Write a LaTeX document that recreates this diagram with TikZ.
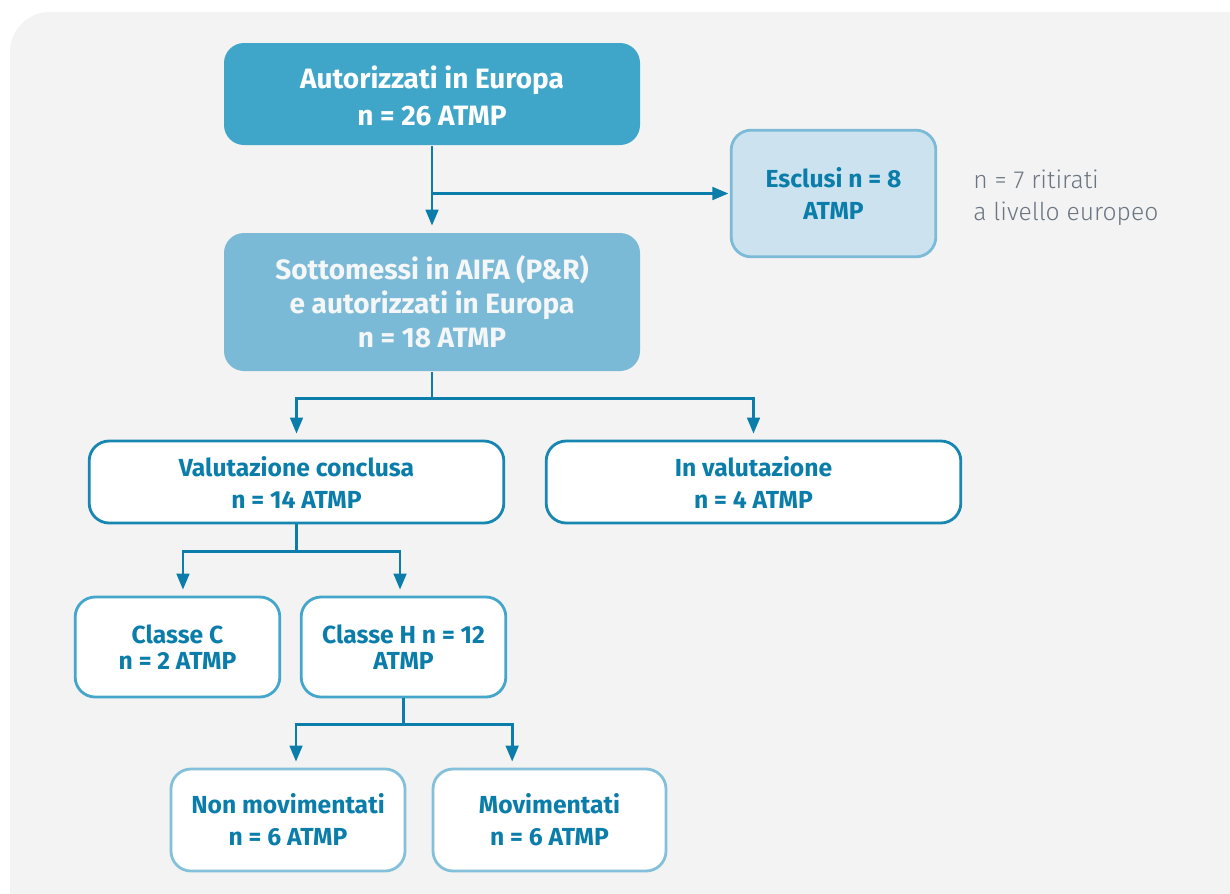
\documentclass[tikz,border=0pt]{standalone}
\usepackage{fontspec}
\setmainfont{Fira Sans}
\newfontfamily\notefont{Fira Sans Light}
\usetikzlibrary{arrows.meta}
\definecolor{bggrey}{HTML}{F3F3F3}
\definecolor{fillA}{HTML}{3FA6C9}
\definecolor{fillB}{HTML}{7BBAD6}
\definecolor{fillC}{HTML}{CCE3EF}
\definecolor{lineC}{HTML}{7BBBD8}
\definecolor{conn}{HTML}{0B7DAA}
\definecolor{tdark}{HTML}{0B7DAA}
\definecolor{borderV}{HTML}{1786B0}
\definecolor{borderK}{HTML}{45A6CB}
\definecolor{borderM}{HTML}{84C0DA}
\definecolor{notegrey}{HTML}{6A7683}
\definecolor{lighttext}{HTML}{F4F6F7}
\tikzset{
  box/.style={rounded corners=15pt, line width=2.1pt, align=center, inner sep=0pt, text=tdark},
  bigtxt/.style={font=\fontsize{21}{28}\selectfont\bfseries},
  smalltxt/.style={font=\fontsize{18.5}{24}\selectfont\bfseries},
  link/.style={draw=conn, line width=2pt},
  arr/.style={link, -{Triangle[length=12pt,width=9.5pt]}, shorten >=4.5pt},
}
\begin{document}
\begin{tikzpicture}[x=0.75pt,y=-0.75pt]
\useasboundingbox (0,0) rectangle (1230,893);
\fill[white] (0,0) rectangle (1230,893);
\fill[bggrey, rounded corners=30pt] (10,12) rectangle (1330,993);

\node[box, bigtxt, fill=fillA, text=white, minimum width=312pt, minimum height=76.5pt] (b1) at (432,94)
  {\rule{0pt}{20pt}Autorizzati in Europa\\ n = 26 ATMP};
\node[box, fill=fillB, text=lighttext, minimum width=312pt, minimum height=103.5pt,
  font=\fontsize{21}{25.5}\selectfont\bfseries] (b2) at (432,302)
  {Sottomessi in AIFA (P\&R)\\ e autorizzati in Europa\\ n = 18 ATMP};
\node[box, smalltxt, fill=fillC, draw=lineC, minimum width=153.5pt, minimum height=95pt] (ex) at (833.5,193.5)
  {Esclusi n = 8\\ ATMP};
\node[anchor=west, align=left, text=notegrey, inner sep=0pt,
  font=\fontsize{18.5}{24}\selectfont\notefont] (note) at (973,198)
  {n = 7 ritirati\\ a livello europeo};

\node[box, smalltxt, fill=white, draw=borderV, minimum width=311pt, minimum height=61.5pt] (v1) at (296.5,482)
  {Valutazione conclusa\\ n = 14 ATMP};
\node[box, smalltxt, fill=white, draw=borderV, minimum width=311pt, minimum height=61.5pt] (v2) at (753.5,482)
  {In valutazione\\ n = 4 ATMP};

\node[box, fill=white, draw=borderK, minimum width=153.5pt, minimum height=75pt,
  font=\fontsize{18.5}{20}\selectfont\bfseries] (cC) at (177.5,647)
  {Classe C\\ n = 2 ATMP};
\node[box, fill=white, draw=borderK, minimum width=153.5pt, minimum height=75pt,
  font=\fontsize{18.5}{20}\selectfont\bfseries] (cH) at (403.5,647)
  {Classe H n = 12\\ ATMP};

\node[box, smalltxt, fill=white, draw=borderM, minimum width=175.5pt, minimum height=76.5pt] (nm) at (288,820)
  {Non movimentati\\ n = 6 ATMP};
\node[box, smalltxt, fill=white, draw=borderM, minimum width=174.75pt, minimum height=76.5pt] (mv) at (549.5,820)
  {Movimentati\\ n = 6 ATMP};

% connectors
\draw[arr] (b1.south) -- (b2.north);
\draw[arr, shorten >=1pt] (b1.south |- ex.west) -- (ex.west);

\draw[link] (b2.south) -- ++(0,26) coordinate (j1);
\draw[arr] (j1) -| (v1.north);
\draw[arr] (j1) -| (v2.north);

\draw[link] (v1.south) -- ++(0,27) coordinate (j2);
\draw[arr] (j2) -| ([xshift=4.1pt]cC.north);
\draw[arr] (j2) -| ([xshift=-2.6pt]cH.north);

\draw[link] (cH.south) -- ++(0,26) coordinate (j3);
\draw[arr] (j3) -| ([xshift=6pt]nm.north);
\draw[arr] (j3) -| ([xshift=-28pt]mv.north);
\end{tikzpicture}
\end{document}
